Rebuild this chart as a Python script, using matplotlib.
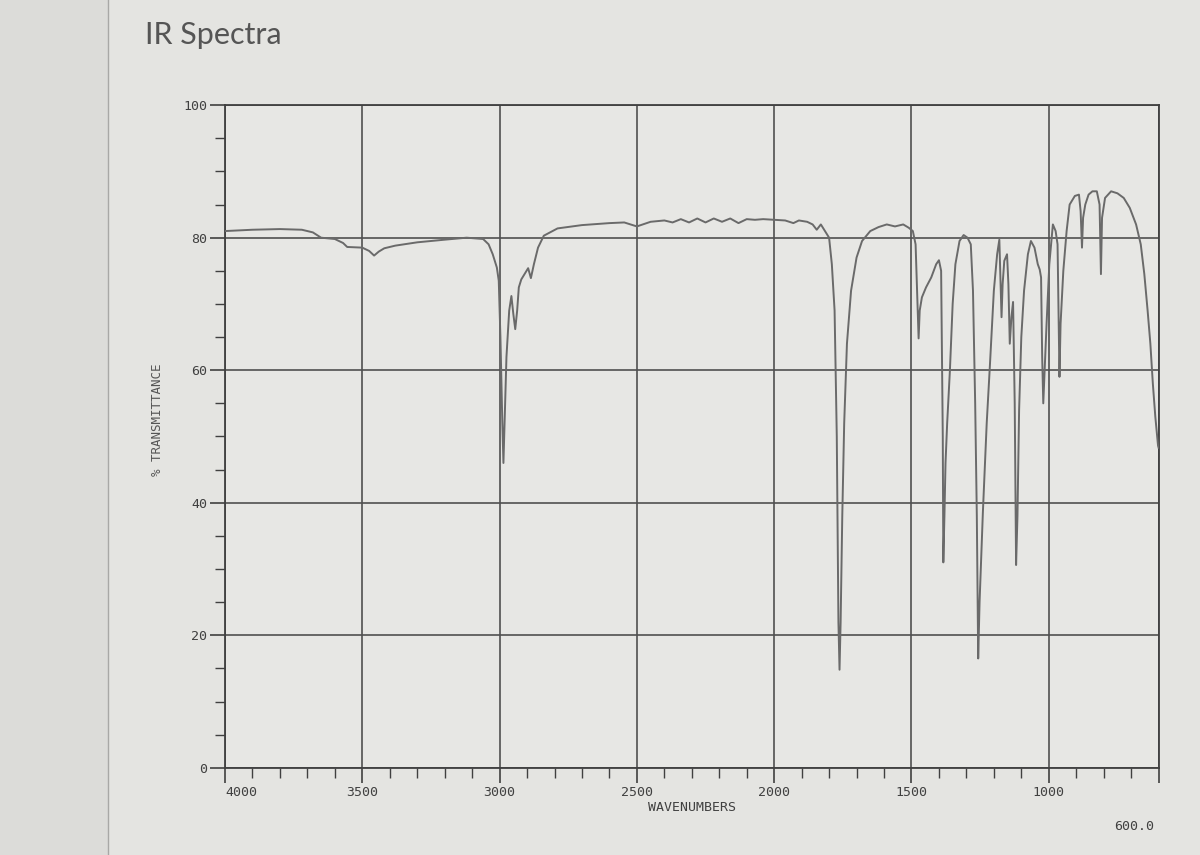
import numpy as np
import matplotlib.pyplot as plt
from matplotlib.ticker import MultipleLocator

# IR spectrum: wavenumber (cm-1) and % transmittance
wavenumber = [4000, 3900, 3800, 3720, 3680, 3650, 3600, 3570, 3555, 3500,
              3475, 3457, 3440, 3420, 3380, 3300, 3200, 3120, 3060, 3040,
              3025, 3010, 3003, 2997, 2990, 2986, 2982, 2975, 2965, 2957,
              2950, 2943, 2936, 2930, 2921, 2905, 2896, 2890, 2886, 2875,
              2860, 2839, 2789, 2700, 2600, 2546, 2500, 2450, 2400, 2370,
              2340, 2310, 2280, 2250, 2220, 2190, 2160, 2130, 2100, 2070,
              2040, 2000, 1960, 1930, 1910, 1880, 1860, 1845, 1830, 1815,
              1800, 1790, 1780, 1772, 1766, 1762, 1758, 1752, 1745, 1735,
              1720, 1700, 1680, 1650, 1620, 1590, 1560, 1530, 1510, 1495,
              1485, 1478, 1474, 1470, 1462, 1447, 1428, 1410, 1400, 1392,
              1386, 1384, 1380, 1376, 1370, 1360, 1350, 1340, 1325, 1310,
              1296, 1284, 1276, 1268, 1262, 1257, 1252, 1240, 1226, 1214,
              1200, 1188, 1180, 1176, 1172, 1168, 1162, 1152, 1147, 1142,
              1136, 1130, 1124, 1119, 1114, 1108, 1100, 1090, 1076, 1065,
              1052, 1040, 1033, 1028, 1024, 1020, 1015, 1008, 998, 985,
              975, 968, 964, 961, 957, 947, 935, 924, 905, 890,
              884, 879, 875, 867, 855, 841, 825, 815, 810, 806,
              795, 773, 750, 727, 705, 682, 665, 652, 640, 630,
              621, 612, 602, 600]
transmittance = [81.0, 81.2, 81.3, 81.2, 80.8, 80.0, 79.8, 79.2, 78.6, 78.5,
                 78.0, 77.3, 77.9, 78.4, 78.8, 79.3, 79.7, 80.0, 79.8, 79.0,
                 77.5, 75.5, 73.5, 65.0, 52.0, 46.0, 52.0, 62.0, 69.0, 71.2,
                 68.5, 66.2, 69.0, 72.5, 73.7, 74.8, 75.4, 74.5, 73.9, 76.0,
                 78.5, 80.3, 81.4, 81.9, 82.2, 82.3, 81.7, 82.4, 82.6, 82.3,
                 82.8, 82.3, 82.9, 82.3, 82.9, 82.4, 82.9, 82.2, 82.8, 82.7,
                 82.8, 82.7, 82.6, 82.2, 82.6, 82.4, 82.0, 81.2, 82.0, 81.0,
                 80.0, 76.0, 69.0, 50.0, 22.0, 14.8, 22.0, 38.0, 52.0, 64.0,
                 72.0, 77.0, 79.5, 81.0, 81.6, 82.0, 81.7, 82.0, 81.5, 81.0,
                 79.0, 70.0, 64.8, 69.0, 71.0, 72.5, 74.0, 76.0, 76.6, 75.0,
                 50.0, 31.0, 38.0, 46.0, 52.0, 60.0, 70.0, 76.0, 79.5, 80.4,
                 80.0, 79.0, 72.0, 55.0, 38.0, 16.5, 25.0, 38.5, 52.0, 61.0,
                 72.0, 77.5, 79.7, 74.0, 68.0, 73.0, 76.5, 77.5, 73.0, 64.0,
                 68.0, 70.3, 55.0, 30.6, 38.0, 54.0, 65.0, 72.0, 77.5, 79.5,
                 78.5, 76.0, 75.2, 74.0, 62.0, 55.0, 60.0, 67.0, 76.0, 82.0,
                 81.0, 79.0, 68.0, 59.0, 67.0, 75.0, 81.0, 85.0, 86.3, 86.5,
                 84.0, 78.5, 83.0, 85.0, 86.5, 87.0, 87.0, 85.0, 74.5, 83.0,
                 86.0, 87.0, 86.7, 86.0, 84.5, 82.0, 79.0, 74.5, 69.0, 64.0,
                 58.0, 53.0, 48.6, 48.3]

x_ticks = [4000, 3500, 3000, 2500, 2000, 1500, 1000, 600]
x_labels = ['4000', '3500', '3000', '2500', '2000', '1500', '1000', '']
y_ticks = [0, 20, 40, 60, 80, 100]
y_labels = ['0', '20', '40', '60', '80', '100']

ink = '#404040'
mono = 'DejaVu Sans Mono'

fig = plt.figure(figsize=(12, 8.55), dpi=100)
fig.patch.set_facecolor('#e4e4e1')

# page edge on the left of the photo
fig.patches.append(plt.Rectangle((0, 0), 0.09, 1, transform=fig.transFigure,
                                 facecolor='#dcdcd9', edgecolor='none', zorder=0))
fig.add_artist(plt.Line2D([0.09, 0.09], [0, 1], transform=fig.transFigure,
                          color='#a8a8a6', lw=1.0))

ax = fig.add_axes([0.1875, 0.102, 0.778, 0.775])
ax.set_facecolor('#e7e7e4')

ax.plot(wavenumber, transmittance, color='#6a6a6a', lw=1.4, zorder=3)

ax.set_xlim(4000, 600)
ax.set_ylim(0, 100)
ax.set_xticks(x_ticks)
ax.set_xticklabels(x_labels, family=mono, fontsize=9.5, color=ink)
ax.set_yticks(y_ticks)
ax.set_yticklabels(y_labels, family=mono, fontsize=9.5, color=ink)
ax.get_xticklabels()[0].set_ha('left')
ax.xaxis.set_minor_locator(MultipleLocator(100))
ax.yaxis.set_minor_locator(MultipleLocator(5))

ax.grid(which='major', color='#505050', lw=1.2, zorder=1)
ax.tick_params(which='major', direction='out', length=11, width=1.2, color=ink, pad=2)
ax.tick_params(which='minor', direction='out', length=7, width=1.0, color=ink)
for s in ax.spines.values():
    s.set_color(ink)
    s.set_linewidth(1.3)

ax.text(0.5, -0.06, 'WAVENUMBERS', transform=ax.transAxes, ha='center', va='center',
        family=mono, fontsize=9.5, color=ink)
ax.annotate('600.0', xy=(600, 0), xycoords=('data', 'axes fraction'),
            xytext=(-4, -59), textcoords='offset pixels', ha='right', va='center',
            family=mono, fontsize=9.5, color=ink)
fig.text(158 / 1200, 1 - 420 / 855, '% TRANSMITTANCE', rotation=90, ha='center',
         va='center', family=mono, fontsize=9, color='#555555')

fig.text(145 / 1200, 1 - 35 / 855, 'IR Spectra', ha='left', va='center',
         family='Lato', fontsize=22, color='#555555')

fig.savefig('out.png', dpi=100, facecolor=fig.get_facecolor())
